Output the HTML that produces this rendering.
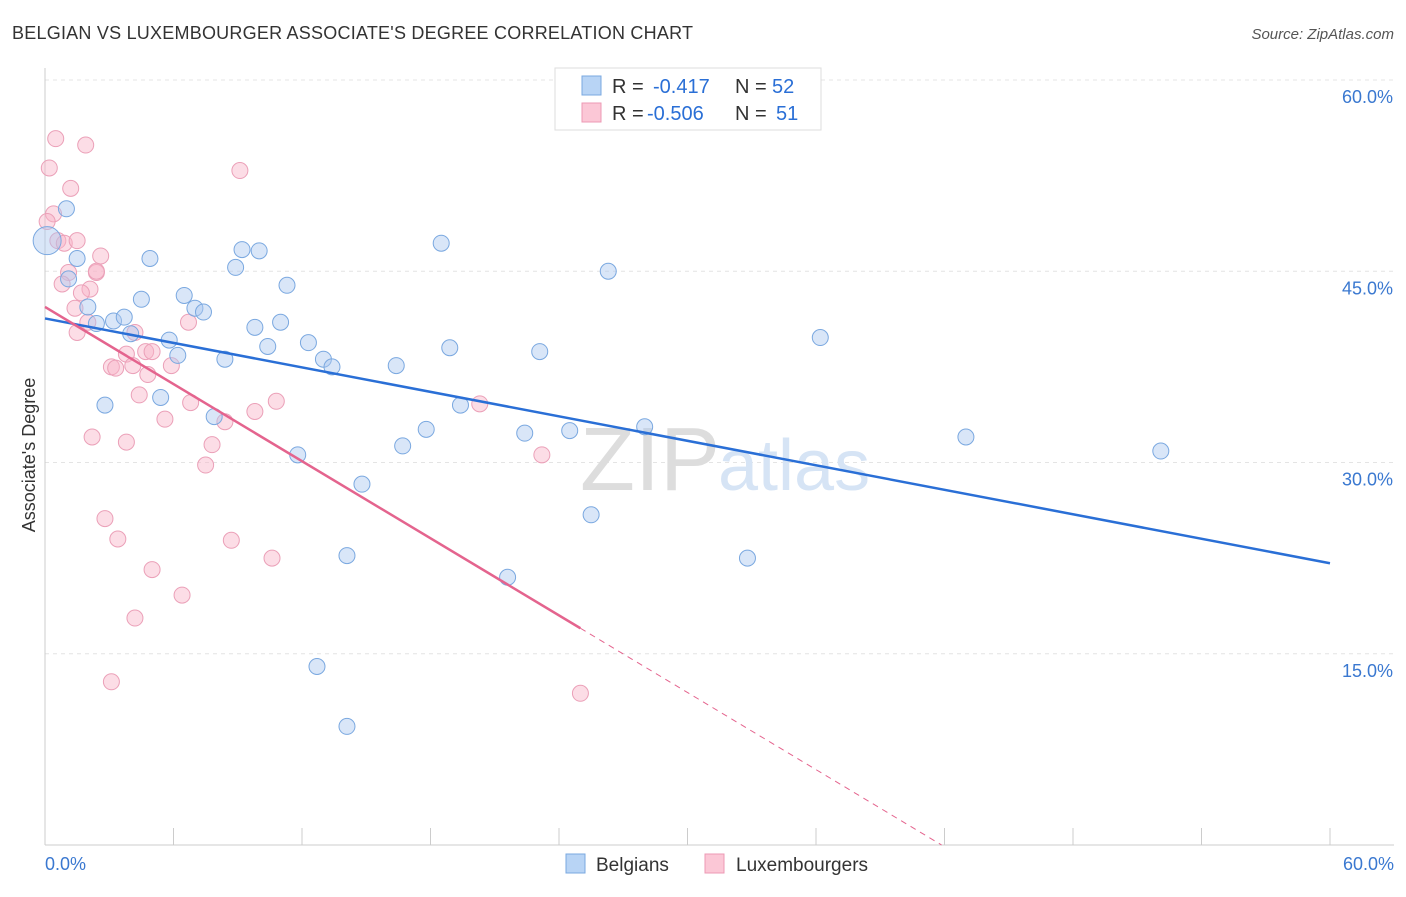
<!DOCTYPE html>
<html><head><meta charset="utf-8"><style>
body{margin:0;background:#fff;font-family:"Liberation Sans",sans-serif;}
svg text{font-family:"Liberation Sans",sans-serif;}
</style></head><body>
<svg id="chart" width="1406" height="892" xmlns="http://www.w3.org/2000/svg">
<text x="12" y="39" font-size="18" fill="#333" textLength="681">BELGIAN VS LUXEMBOURGER ASSOCIATE'S DEGREE CORRELATION CHART</text>
<text x="1394" y="39" font-size="15" fill="#555" font-style="italic" text-anchor="end">Source: ZipAtlas.com</text>
<g id="grid"></g>
<g id="axes"></g>
<text x="720" y="490" font-size="90" fill="#ddd" font-family="Liberation Serif" text-anchor="end">ZIP</text>
<text x="718" y="490" font-size="72" fill="#d6e4f5">atlas</text>
<g id="marks"></g>
<text x="35" y="455" font-size="18" fill="#333" text-anchor="middle" transform="rotate(-90 35 455)">Associate's Degree</text>
<g>
<rect x="555" y="68" width="266" height="62" fill="#fff" stroke="#ddd"/>
<rect x="582" y="76" width="19" height="19" fill="#b8d4f5" stroke="#7aa8e0"/>
<rect x="582" y="103" width="19" height="19" fill="#fbc7d6" stroke="#ec9ab4"/>
<text x="612" y="93" font-size="20" fill="#333">R = <tspan x="653" fill="#2a6fd6">-0.417</tspan><tspan x="735" fill="#333">N = </tspan><tspan x="772" fill="#2a6fd6">52</tspan></text>
<text x="612" y="120" font-size="20" fill="#333">R = <tspan x="647" fill="#2a6fd6">-0.506</tspan><tspan x="735" fill="#333">N = </tspan><tspan x="776" fill="#2a6fd6">51</tspan></text>
</g>
<g>
<rect x="566" y="854" width="19" height="19" fill="#b8d4f5" stroke="#7aa8e0"/>
<text x="596" y="871" font-size="19" fill="#333">Belgians</text>
<rect x="705" y="854" width="19" height="19" fill="#fbc7d6" stroke="#ec9ab4"/>
<text x="736" y="871" font-size="19" fill="#333">Luxembourgers</text>
</g>
</svg>
<script>
const yTicks=[15,30,45,60];
const yTickLabels=["15.0%","30.0%","45.0%","60.0%"];
const belgX=[1.0,0.1,1.5,1.1,2.0,2.4,3.2,3.7,4.0,2.8,4.5,4.9,5.4,5.8,6.2,6.5,7.0,7.4,7.9,8.4,8.9,9.2,10.0,9.8,10.4,11.0,11.3,11.8,12.3,12.7,13.0,13.4,14.1,14.1,14.8,16.4,16.7,17.8,18.5,18.9,19.4,21.6,22.4,23.1,24.5,25.5,26.3,28.0,32.8,36.2,43.0,52.1];
const belgY=[49.9,47.4,46.0,44.4,42.2,40.9,41.1,41.4,40.1,34.5,42.8,46.0,35.1,39.6,38.4,43.1,42.1,41.8,33.6,38.1,45.3,46.7,46.6,40.6,39.1,41.0,43.9,30.6,39.4,14.0,38.1,37.5,22.7,9.3,28.3,37.6,31.3,32.6,47.2,39.0,34.5,21.0,32.3,38.7,32.5,25.9,45.0,32.8,22.5,39.8,32.0,30.9];
const luxX=[0.5,0.2,1.9,1.2,0.4,0.6,0.9,1.5,1.1,2.4,2.6,0.8,2.1,1.7,1.4,1.5,2.0,2.2,2.8,3.1,3.3,3.4,3.8,3.8,4.1,4.2,4.2,3.1,4.4,4.7,4.8,5.0,5.0,5.6,5.9,6.4,6.8,6.7,7.5,7.8,8.4,8.7,9.1,9.8,10.6,10.8,20.3,23.2,25.0,2.4,0.1];
const luxY=[55.4,53.1,54.9,51.5,49.5,47.4,47.2,47.4,44.9,44.9,46.2,44.0,43.6,43.3,42.1,40.2,41.0,32.0,25.6,37.5,37.4,24.0,31.6,38.5,37.6,40.2,17.8,12.8,35.3,38.7,36.9,21.6,38.7,33.4,37.6,19.6,34.7,41.0,29.8,31.4,33.2,23.9,52.9,34.0,22.5,34.8,34.6,30.6,11.9,45.0,48.9];
const trendBelg=[41.3,22.1];
const trendLux=[42.2,17.0,0];
const NS="http://www.w3.org/2000/svg";
const X=v=>45+v/60*1285, Y=v=>845-v/60*765;
const mk=(t,a,p)=>{const e=document.createElementNS(NS,t);for(const k in a)e.setAttribute(k,a[k]);p.appendChild(e);return e;};
const grid=document.getElementById('grid'),axes=document.getElementById('axes'),marks=document.getElementById('marks');
yTicks.forEach((t,i)=>{
 const l=mk('line',{x1:45,x2:1394,y1:Y(t),y2:Y(t),stroke:'#e4e4e4','stroke-dasharray':'4,4'},grid);
 
 
 const tx=mk('text',{x:1393,y:Y(t)+23,'font-size':18,fill:'#3a78d0','text-anchor':'end'},axes);
 tx.textContent=yTickLabels[i];
 
 
});
const ax=mk('line',{x1:45,x2:1394,y1:845,y2:845,stroke:'#ccc'},axes);


const ay=mk('line',{x1:45,x2:45,y1:68,y2:845,stroke:'#ccc'},axes);


for(let i=0;i<=10;i++){const v=i*6;
 const t=mk('line',{x1:X(v),x2:X(v),y1:828,y2:845,stroke:'#ccc'},axes);
 
 }
[[0,"0.0%",'start',45],[60,"60.0%",'end',1394]].forEach(d=>{
 const t=mk('text',{x:d[3],y:870,'font-size':18,fill:'#3a78d0','text-anchor':d[2]},axes);t.textContent=d[1];
 
 });
luxX.forEach((v,i)=>{const c=mk('circle',{cx:X(v),cy:Y(luxY[i]),r:8,fill:'rgba(248,180,200,0.45)',stroke:'#eba0b8','stroke-width':1},marks);
 
 });
belgX.forEach((v,i)=>{const c=mk('circle',{cx:X(v),cy:Y(belgY[i]),r:i==1?14:8,fill:'rgba(170,200,240,0.45)',stroke:'#7aa8e0','stroke-width':1},marks);
 
 });
const tb=mk('line',{x1:X(0),y1:Y(trendBelg[0]),x2:X(60),y2:Y(trendBelg[1]),stroke:'#2a6fd6','stroke-width':2.5},marks);


const xe=25;
const tl=mk('line',{x1:X(0),y1:Y(trendLux[0]),x2:X(xe),y2:Y(trendLux[1]),stroke:'#e4648e','stroke-width':2.5},marks);


const slope=(trendLux[1]-trendLux[0])/xe, x0=-trendLux[0]/slope;
const td=mk('line',{x1:X(xe),y1:Y(trendLux[1]),x2:X(x0),y2:Y(0),stroke:'#e4648e','stroke-width':1,'stroke-dasharray':'6,5'},marks);


</script>
</body></html>
